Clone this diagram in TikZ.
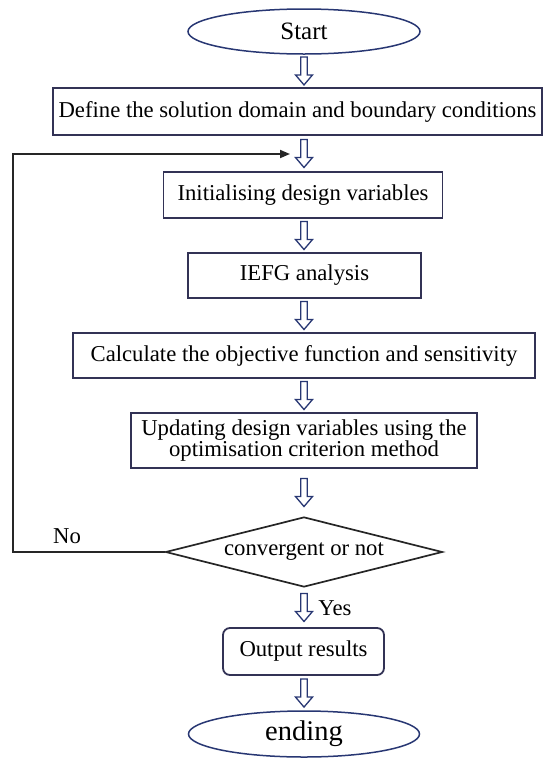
\documentclass[tikz,border=0pt]{standalone}
\usepackage{fontspec}
\setmainfont{Liberation Serif}
\usepackage{tikz}
\usetikzlibrary{arrows.meta,positioning,shapes.geometric,calc}
\definecolor{boxline}{RGB}{50,50,85}
\definecolor{navyline}{RGB}{40,55,115}
\tikzset{
  stepbox/.style={draw=boxline, line width=1.8pt, rectangle, inner sep=2pt, align=center, fill=white},
  terminal/.style={draw=navyline, line width=1.5pt, ellipse, inner sep=0pt},
  decision/.style={draw=black!85, line width=1.7pt, diamond, aspect=3.96, inner sep=0pt},
  hollowarrow/.style={draw=navyline, line width=1.3pt, fill=white, line join=miter},
  loopline/.style={draw=black!85, line width=1.8pt, -{Triangle[length=10pt,width=8pt]}},
}
% hollow down arrow between two steps, on the axis of the start node
\newcommand{\flowarrow}[2]{%
  \coordinate (m) at ($(#1.south -| start)!0.5!(#2.north -| start)$);
  \draw[hollowarrow] ($(m)+(-3.3,-14)$) -- ($(m)+(-3.3,4)$) -- ($(m)+(-8.5,4)$)
    -- ($(m)+(0,14)$) -- ($(m)+(8.5,4)$) -- ($(m)+(3.3,4)$) -- ($(m)+(3.3,-14)$) -- cycle;}

\begin{document}
\begin{tikzpicture}[x=1pt,y=-1pt,font=\fontsize{22.7}{20}\selectfont]
  \useasboundingbox (0,0) rectangle (543,758);
  % Start
  \node[terminal, minimum width=232pt, minimum height=45pt, font=\fontsize{25}{30}\selectfont] (start) at (304,31.5) {Start};
  % Steps
  \node[stepbox, minimum width=489pt, minimum height=47pt] (domain) at (297.5,111.5) {Define the solution domain and boundary conditions};
  \node[stepbox, minimum width=279pt, minimum height=46pt] (init) at (303,195) {Initialising design variables};
  \node[stepbox, minimum width=233pt, minimum height=45pt] (iefg) at (304.5,275.5) {IEFG analysis};
  \node[stepbox, minimum width=462pt, minimum height=45pt] (objective) at (304,355.5) {Calculate the objective function and sensitivity};
  \node[stepbox, minimum width=346pt, minimum height=55pt] (update) at (304,440.5) {Updating design variables using the\\optimisation criterion method};
  % Check
  \node[decision, minimum width=277pt, minimum height=70pt] (converge) at (304,552) {convergent or not};
  % Output and end
  \node[stepbox, rounded corners=7pt, minimum width=161pt, minimum height=47pt] (output) at (303.5,651.5) {Output results};
  \node[terminal, minimum width=231pt, minimum height=46pt, font=\fontsize{28.5}{34}\selectfont] (ending) at (304,734) {ending};

  % Arrows
  \flowarrow{start}{domain}
  \flowarrow{domain}{init}
  \flowarrow{init}{iefg}
  \flowarrow{iefg}{objective}
  \flowarrow{objective}{update}
  \flowarrow{update}{converge}
  \flowarrow{converge}{output}
  \flowarrow{output}{ending}

  % Loop back
  \coordinate (loopin) at (290,154);
  \draw[loopline] (converge.west) -- ++(-152,0) |- (loopin);
  \node (no) at (67,536) {No};
  \node (yes) at (335,608) {Yes};
\end{tikzpicture}
\end{document}
